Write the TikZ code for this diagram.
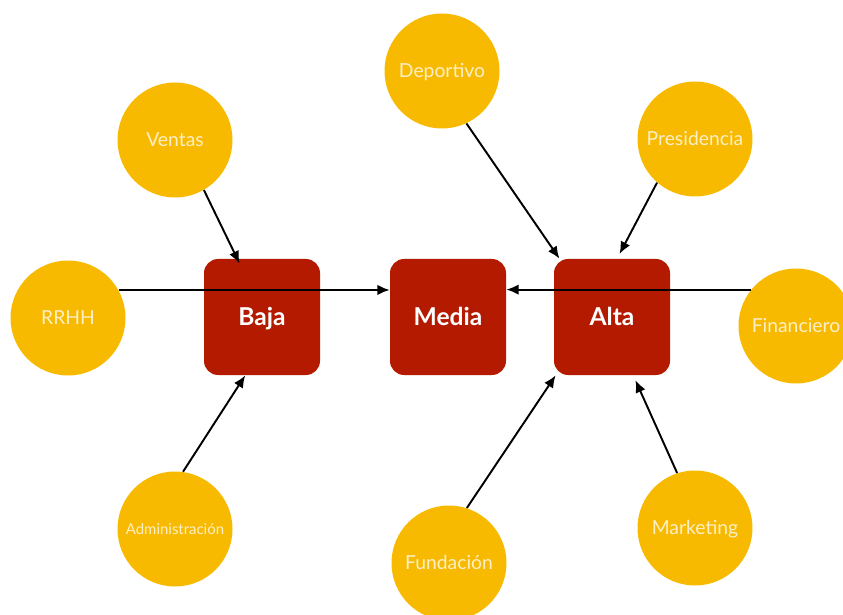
\documentclass[tikz,border=0pt]{standalone}
\usepackage{fontspec}
\setmainfont{Lato}
\usetikzlibrary{arrows.meta}
\definecolor{area}{HTML}{F8BA00}
\definecolor{nivel}{HTML}{B31A00}
\definecolor{areatext}{HTML}{FCEFC8}
\begin{document}
\begin{tikzpicture}[x=0.02cm,y=-0.02cm,
    area/.style={circle, fill=area, minimum size=115*0.02cm, inner sep=0pt,
                 text height=7.9pt, text depth=0pt,
                 text=areatext, font=\fontsize{11}{13}\selectfont},
    nivel/.style={rectangle, rounded corners=8pt, fill=nivel, minimum size=116*0.02cm,
                  inner sep=0pt, text height=10pt, text depth=0pt,
                  text=white, font=\fontsize{14}{16}\selectfont\bfseries},
    flecha/.style={line width=1.1pt, -{Latex[length=7pt,width=6pt]}}]
          \useasboundingbox (0,0) rectangle (843,615);
          \clip (0,0) rectangle (843,615);
          \coordinate (p1) at (262,317);
          \coordinate (p2) at (448,317);
          \coordinate (p3) at (612,317);
          \coordinate (p4) at (175,140);
          \coordinate (p5) at (442,71);
          \coordinate (p6) at (695,139);
          \coordinate (p7) at (68,318);
          \coordinate (p8) at (796,326);
          \coordinate (p9) at (175,529);
          \coordinate (p10) at (449,563);
          \coordinate (p11) at (695,528);
          \node[nivel] (baja) at (p1) {Baja};
          \node[nivel] (media) at (p2) {Media};
          \node[nivel] (alta) at (p3) {Alta};
          \node[area] (ventas) at (p4) {Ventas};
          \node[area] (deportivo) at (p5) {Deportivo};
          \node[area] (presidencia) at (p6) {Presidencia};
          \node[area] (rrhh) at (p7) {RRHH};
          \node[area] (financiero) at (p8) {Financiero};
          \node[area,text height=6.1pt,font=\fontsize{8.5}{10}\selectfont] (administracion) at (p9) {Administración};
          \node[area] (fundacion) at (p10) {Fundación};
          \node[area] (marketing) at (p11) {Marketing};
        \draw[flecha] (rrhh.29) -- (rrhh.29 -| media.west);
        \draw[flecha] (financiero.141) -- (financiero.141 -| media.east);
        \draw[flecha,shorten >=-3pt] (ventas.-60) -- (baja.113);
        \draw[flecha] (administracion.82) -- (baja.-106);
        \draw[flecha] (deportivo.-65) -- (alta.132);
        \draw[flecha,shorten >=3pt] (presidencia.-131) -- (alta.85);
        \draw[flecha] (fundacion.72) -- (alta.-134);
        \draw[flecha,shorten >=3pt] (marketing.108) -- (alta.-70);
        \end{tikzpicture}
\end{document}
